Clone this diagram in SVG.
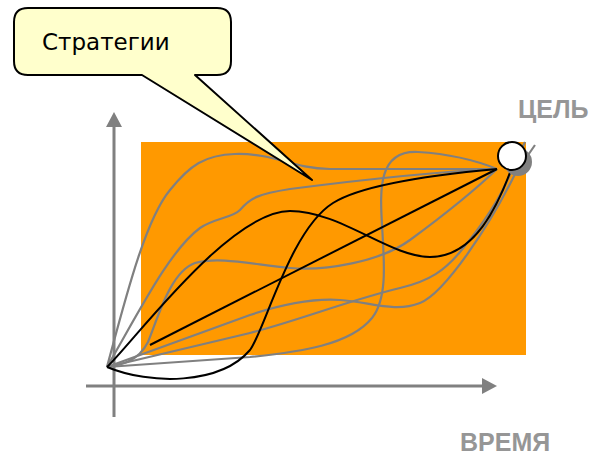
<svg xmlns="http://www.w3.org/2000/svg" width="598" height="458" viewBox="0 0 598 458">
<style>
.axis{stroke:#808080;stroke-width:3;fill:none}
.g{stroke:#808080;stroke-width:2.2;fill:none;stroke-linejoin:round}
.b{stroke:#000;stroke-width:2;fill:none;stroke-linejoin:round}
.lbl{font-family:"Liberation Sans",Arial,sans-serif;font-weight:bold;font-size:25px;fill:#969696}
.call{font-family:"DejaVu Sans","Liberation Sans",sans-serif;font-size:23px;fill:#000}
</style>
<defs>
<marker id="arr" viewBox="0 0 15 16" refX="5" refY="8" markerWidth="15" markerHeight="16" orient="auto" markerUnits="userSpaceOnUse">
<polygon points="0,0 15,8 0,16" fill="#808080"/>
</marker>
</defs>
<rect width="598" height="458" fill="#fff"/>
<g id="axes">
<path class="axis" d="M114,417 V122" marker-end="url(#arr)"/>
<path class="axis" d="M86,386 H487" marker-end="url(#arr)"/>
</g>
<g id="field"><rect x="141" y="142" width="385" height="213" fill="#FF9900"/></g>
<g id="connectors">
<path class="g" d="M107,367 C125,300 145,220 170,190 C190,165 205,155 235,154 C275,153 290,168 330,169 L497,169"/>
<path class="g" d="M107,367 C140,310 170,250 200,228 C215,218 232,218 240,210 C250,198 258,194 290,189 C360,180 430,172 497,169"/>
<path class="g" d="M107,367 C120,365 138,362 148,342 C158,318 170,272 195,263 C220,256 255,265 290,268 C325,271 380,262 410,240 C440,218 475,190 497,169"/>
<path class="g" d="M107,367 L250,357 C300,352 350,345 372,318 C388,298 384,260 382,225 C380,190 378,150 418,152 C450,154 475,160 497,169"/>
<path class="g" d="M107,367 L250,315 C280,305 310,298 340,300 C370,302 395,313 420,303 C445,293 490,225 515,174 L535,145"/>
<path class="g" d="M107,367 L250,333 C300,320 350,300 400,288 C430,281 445,270 460,252 C480,228 500,200 511,172 L525,142"/>
<path class="b" d="M150,345 L497,169"/>
<path class="b" d="M107,367 C135,340 230,211 290,211 C340,211 390,257 430,257 C475,257 498,205 511,170"/>
<path class="b" d="M107,367 C150,385 220,385 250,350 C265,330 290,230 333,203 C360,186 420,176 497,169"/>
</g>
<g id="goal">
<circle cx="518" cy="162" r="14" fill="#808080"/>
<circle cx="512" cy="156" r="14" fill="#fff" stroke="#000" stroke-width="2"/>
</g>
<g id="callout">
<path d="M28,8 H217 Q231,8 231,22 V61 Q231,75 217,75 H195 L312,180 L142,75 H28 Q14,75 14,61 V22 Q14,8 28,8 Z" fill="#FFFFCC" stroke="#000" stroke-width="2" stroke-linejoin="round"/>
<text class="call" x="42" y="50">Стратегии</text>
</g>
<g id="label-goal"><text class="lbl" x="518" y="118">ЦЕЛЬ</text></g>
<g id="label-time"><text class="lbl" x="460" y="451">ВРЕМЯ</text></g>
</svg>
